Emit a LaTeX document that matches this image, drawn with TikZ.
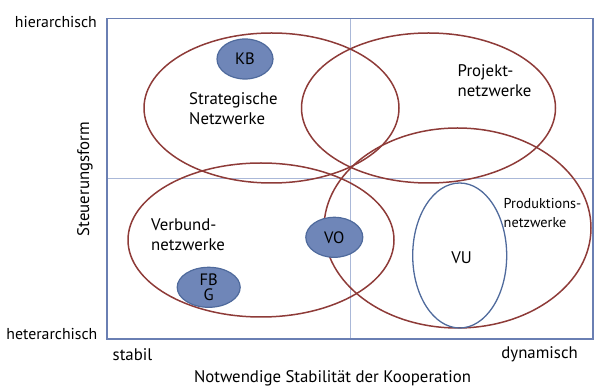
\documentclass[tikz,border=0pt]{standalone}
\usepackage{fontspec}
\setmainfont{PT Sans}
\usetikzlibrary{shapes.geometric}
\definecolor{netred}{HTML}{8E3B38}
\definecolor{frameblue}{HTML}{6A7FB3}
\definecolor{midblue}{HTML}{AAB8D8}
\definecolor{fillblue}{HTML}{6F86B8}
\definecolor{edgeblue}{HTML}{4F6A9C}
\tikzset{
  netell/.style={draw=netred, line width=1.5pt, ellipse, inner sep=0pt},
  blobell/.style={draw=edgeblue, fill=fillblue, line width=1.2pt, ellipse, inner sep=0pt, font=\fontsize{16.5}{17}\selectfont},
  lab/.style={font=\fontsize{16.8}{20}\selectfont, inner sep=0pt},
  sidelab/.style={font=\fontsize{15.8}{20}\selectfont, inner sep=0pt},
  smalllab/.style={font=\fontsize{14.3}{19}\selectfont, inner sep=0pt}
}
\begin{document}
\begin{tikzpicture}[x=1pt,y=-1pt]
\useasboundingbox (0,0) rectangle (595,387);
% mid lines
\coordinate (mt) at (350.7,18.5);
\coordinate (mb) at (350.7,339);
\coordinate (ml) at (107,178.5);
\coordinate (mr) at (592.7,178.5);
\draw[midblue, line width=1.1pt] (mt) -- (mb);
\draw[midblue, line width=1.1pt] (ml) -- (mr);
% big ellipses
\node[netell, minimum width=255pt, minimum height=150pt] (strat) at (271.5,108) {};
\node[netell, minimum width=254pt, minimum height=150pt] (proj) at (428.5,108) {};
\node[netell, minimum width=266pt, minimum height=154pt] (verb) at (261,240) {};
\node[netell, minimum width=267pt, minimum height=200pt] (prod) at (457.5,228) {};
\node[draw=edgeblue, line width=1.3pt, ellipse, inner sep=0pt, minimum width=94pt, minimum height=145pt] (vu) at (459.7,255.5) {};
% frame
\draw[frameblue, line width=1.6pt] (107,18.5) rectangle (592.7,339);
% filled blobs
\node[blobell, minimum width=56pt, minimum height=40pt] (kb) at (245,59) {KB};
\node[blobell, minimum width=57pt, minimum height=40pt] (vo) at (334.3,237.3) {VO};
\node[blobell, minimum width=63pt, minimum height=40pt, align=center, font=\fontsize{16.5}{15}\selectfont] (fbg) at (208.7,287.3) {FB\\G};
% labels
\node[lab, anchor=west, align=left] (tstrat) at (189,109) {Strategische\\Netzwerke};
\node[lab, anchor=west, align=left] (tproj) at (457.5,81) {Projekt-\\netzwerke};
\node[lab, anchor=west, align=left] (tverb) at (151,235) {Verbund-\\netzwerke};
\node[smalllab, anchor=west, align=left] (tprod) at (503.5,213) {Produktions-\\netzwerke};
\node[lab] (tvu) at (461.7,258) {VU};
% axis labels
\node[sidelab, anchor=east] (thier) at (97,22) {hierarchisch};
\node[sidelab, anchor=east] (thet) at (97.5,334) {heterarchisch};
\node[lab, anchor=west] (tstab) at (112.5,355) {stabil};
\node[lab, anchor=east] (tdyn) at (578,354) {dynamisch};
\node[lab] (txax) at (332.5,378) {Notwendige Stabilität der Kooperation};
\node[lab, rotate=90] (tyax) at (85,179) {Steuerungsform};
\end{tikzpicture}
\end{document}
